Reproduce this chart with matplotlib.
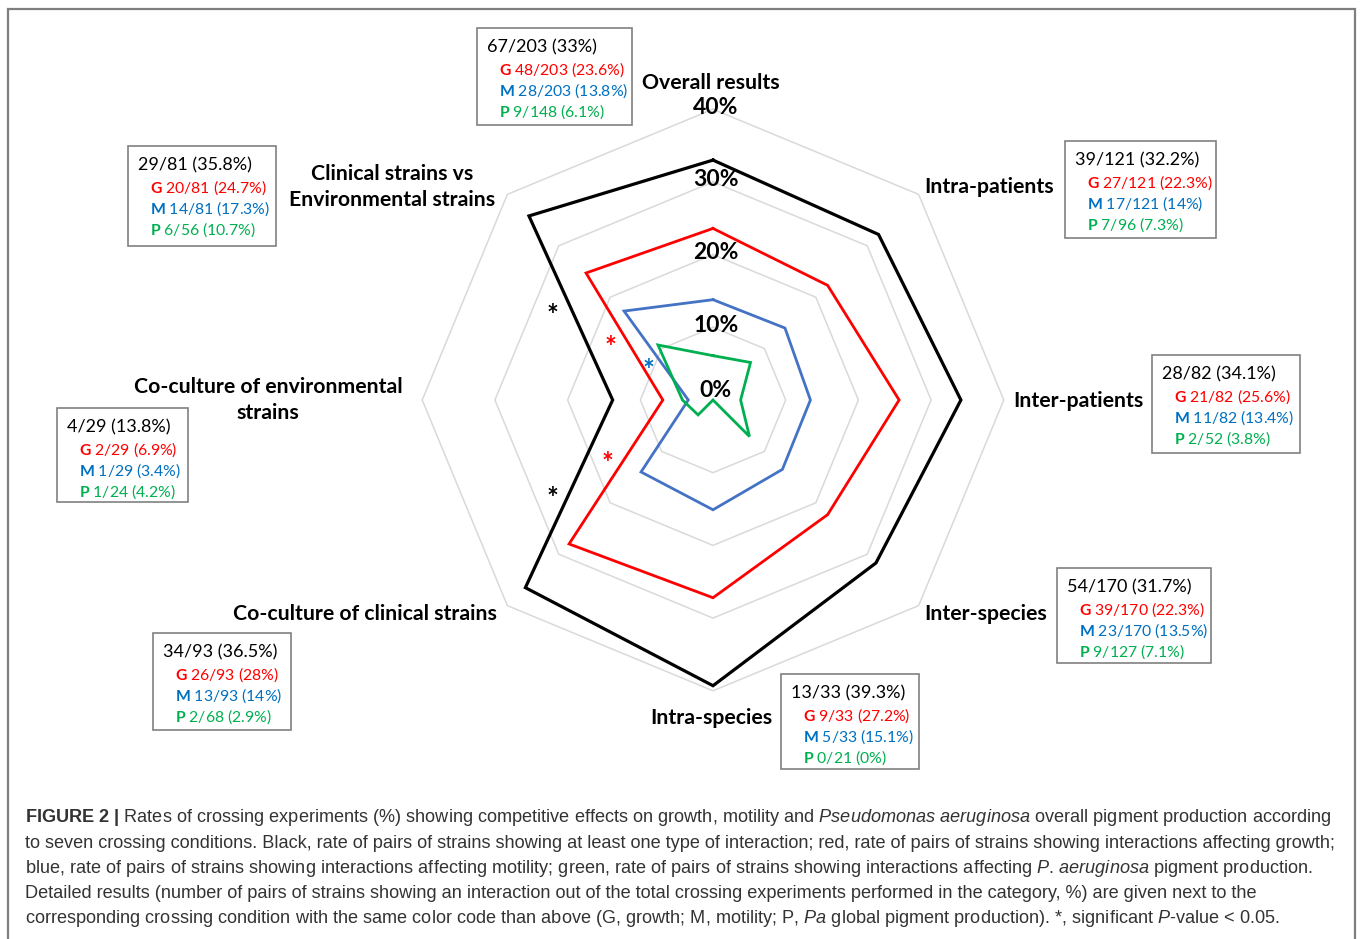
import matplotlib
import matplotlib.pyplot as plt
import numpy as np
from matplotlib.patches import Rectangle

matplotlib.use('Agg')

plt.rcParams['mathtext.fontset'] = 'custom'
plt.rcParams['mathtext.rm'] = 'Liberation Sans'
plt.rcParams['mathtext.bf'] = 'Lato:bold'
plt.rcParams['mathtext.it'] = 'Liberation Sans:italic'
plt.rcParams['mathtext.sf'] = 'Liberation Sans:bold'

W, H = 1360, 939

# crossing conditions, clockwise from the top
categories = [
    "Overall results",
    "Intra-patients",
    "Inter-patients",
    "Inter-species",
    "Intra-species",
    "Co-culture of clinical strains",
    "Co-culture of environmental\nstrains",
    "Clinical strains vs\nEnvironmental strains",
]

any_n = [67, 39, 28, 54, 13, 34, 4, 29]
any_tot = [203, 121, 82, 170, 33, 93, 29, 81]
any_pct = [33, 32.2, 34.1, 31.7, 39.3, 36.5, 13.8, 35.8]

growth_n = [48, 27, 21, 39, 9, 26, 2, 20]
growth_tot = [203, 121, 82, 170, 33, 93, 29, 81]
growth_pct = [23.6, 22.3, 25.6, 22.3, 27.2, 28, 6.9, 24.7]

motility_n = [28, 17, 11, 23, 5, 13, 1, 14]
motility_tot = [203, 121, 82, 170, 33, 93, 29, 81]
motility_pct = [13.8, 14, 13.4, 13.5, 15.1, 14, 3.4, 17.3]

pigment_n = [9, 7, 2, 9, 0, 2, 1, 6]
pigment_tot = [148, 96, 52, 127, 21, 68, 24, 56]
pigment_pct = [6.1, 7.3, 3.8, 7.1, 0, 2.9, 4.2, 10.7]

ring_values = [10, 20, 30, 40]
tick_labels = ["0%", "10%", "20%", "30%", "40%"]

caption_lines = [
    r"$\mathsf{FIGURE\ 2\ |}$ Rates of crossing experiments (%) showing competitive effects on growth, "
    r"motility and $\mathit{Pseudomonas}$ $\mathit{aeruginosa}$ overall pigment production according",
    "to seven crossing conditions. Black, rate of pairs of strains showing at least one type of "
    "interaction; red, rate of pairs of strains showing interactions affecting growth;",
    "blue, rate of pairs of strains showing interactions affecting motility; green, rate of pairs of "
    r"strains showing interactions affecting $\mathit{P}$. $\mathit{aeruginosa}$ pigment production.",
    "Detailed results (number of pairs of strains showing an interaction out of the total crossing "
    "experiments performed in the category, %) are given next to the",
    "corresponding crossing condition with the same color code than above (G, growth; M, motility; "
    r"P, $\mathit{Pa}$ global pigment production). *, significant $\mathit{P}$-value < 0.05.",
]

C_BLACK = "#000000"
C_RED = "#FF0000"
C_BLUE_LINE = "#4472C4"
C_GREEN_LINE = "#00B050"
C_BLUE_TXT = "#0070C0"
C_GREEN_TXT = "#00B050"

# layout in pixels
CX, CY, K = 713, 400, 7.27
label_pos = [
    (711, 83, 'center'), (924, 187, 'left'), (1013, 401, 'left'), (924, 614, 'left'),
    (711, 718, 'center'), (497, 614, 'right'), (268, 400, 'center'), (392, 187, 'center'),
]
box_pos = [
    (477, 28, 155, 97), (1065, 141, 151, 97), (1152, 355, 148, 98), (1057, 568, 154, 95),
    (781, 674, 138, 95), (153, 633, 138, 97), (57, 408, 131, 94), (128, 146, 148, 100),
]
stars = [(552, 311, C_BLACK), (552, 494, C_BLACK), (610, 343, C_RED),
         (607, 459, C_RED), (648, 366, C_BLUE_TXT)]


def fx(x):
    return x / W


def fy(y):
    return 1 - y / H


def pct(p):
    return f"{p:g}%"


fig = plt.figure(figsize=(W / 100, H / 100), dpi=100)
ax = fig.add_axes([0, 0, 1, 1])
ax.set_xlim(-CX / K, (W - CX) / K)
ax.set_ylim(-(H - CY) / K, CY / K)
ax.axis('off')

n = len(categories)
angles = np.pi / 2 - np.arange(n) * 2 * np.pi / n
closed = np.append(angles, angles[0])

for r in ring_values:
    ax.plot(r * np.cos(closed), r * np.sin(closed), color="#D9D9D9", lw=1.1, zorder=1)

series = [
    (any_pct, C_BLACK, 2.3),
    (growth_pct, C_RED, 2.0),
    (motility_pct, C_BLUE_LINE, 2.0),
    (pigment_pct, C_GREEN_LINE, 2.0),
]
for vals, col, lw in series:
    v = np.append(vals, vals[0])
    ax.plot(v * np.cos(closed), v * np.sin(closed), color=col, lw=lw,
            solid_joinstyle='miter', zorder=3)

for i, lab in enumerate(tick_labels):
    r = 0 if i == 0 else ring_values[i - 1]
    dy = 1.3 if i == 0 else 0.3
    ax.text(0.4, r + dy, lab, ha='center', va='center', fontsize=16.5,
            fontweight='bold', family='Lato', zorder=4)

for lab, (x, y, ha) in zip(categories, label_pos):
    fig.text(fx(x), fy(y), lab, ha=ha, va='center', multialignment='center',
             fontsize=15.3, fontweight='bold', family='Lato', linespacing=1.35)

for i, (x0, y0, bw, bh) in enumerate(box_pos):
    fig.patches.append(Rectangle((fx(x0), fy(y0 + bh)), bw / W, bh / H,
                                 transform=fig.transFigure, fill=False,
                                 edgecolor="#808080", lw=1.2))
    lines = [
        (f"{any_n[i]}/{any_tot[i]} ({pct(any_pct[i])})", C_BLACK, 10, 19, 13),
        (rf"$\mathbf{{G}}$ {growth_n[i]}/{growth_tot[i]} ({pct(growth_pct[i])})", C_RED, 22, 42, 11.3),
        (rf"$\mathbf{{M}}$ {motility_n[i]}/{motility_tot[i]} ({pct(motility_pct[i])})", C_BLUE_TXT, 22, 63, 11.3),
        (rf"$\mathbf{{P}}$ {pigment_n[i]}/{pigment_tot[i]} ({pct(pigment_pct[i])})", C_GREEN_TXT, 22, 84, 11.3),
    ]
    for txt, col, dx, dy, fs in lines:
        fig.text(fx(x0 + dx), fy(y0 + dy), txt, ha='left', va='center',
                 color=col, fontsize=fs, family='Lato')

for x, y, col in stars:
    fig.text(fx(x), fy(y + 5), "*", ha='center', va='center', color=col,
             fontsize=20, fontweight='bold', family='Lato')

for j, line in enumerate(caption_lines):
    fig.text(fx(25), fy(818 + j * 25.2), line, ha='left', va='center',
             color="#333333", fontsize=13.1, family='Liberation Sans')

fig.patches.append(Rectangle((fx(8), fy(945)), (1355 - 8) / W, (945 - 9) / H,
                             transform=fig.transFigure, fill=False,
                             edgecolor="#7F7F7F", lw=1.6))

fig.savefig("out.png", dpi=100)
